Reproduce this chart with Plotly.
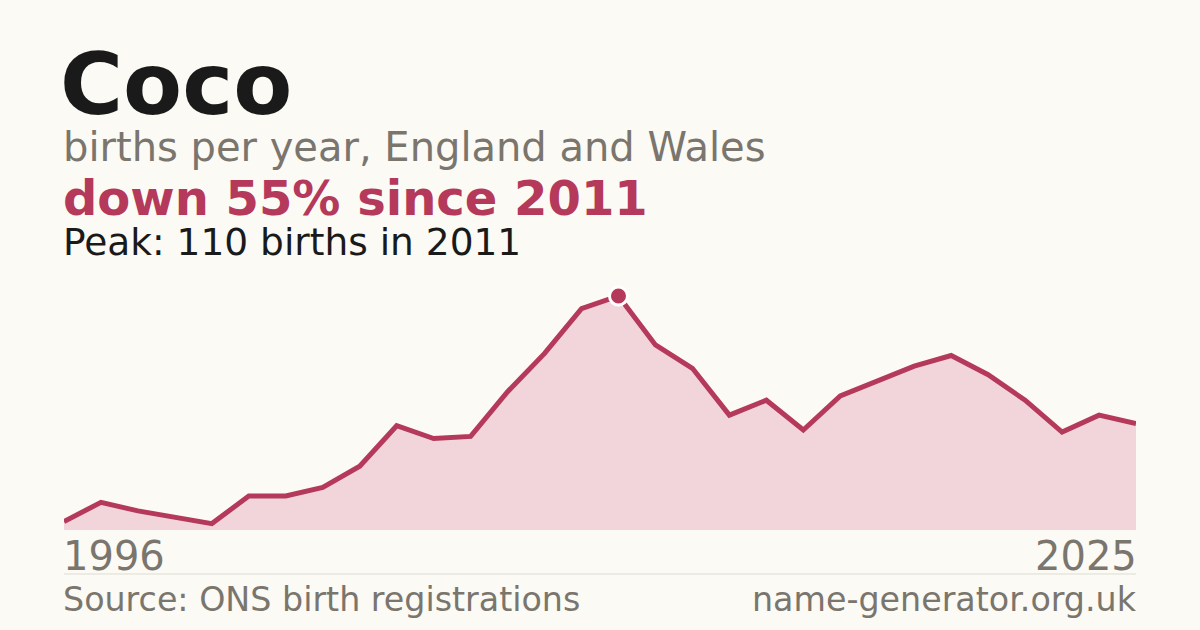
import plotly.graph_objects as go

# births per year for the name Coco, England and Wales
years = list(range(1996, 2026))
births = [4, 13, 9, 6, 3, 16, 16, 20, 30, 49, 43, 44, 65, 83, 104,
          110, 87, 76, 54, 61, 47, 63, 70, 77, 82, 73, 61, 46, 54, 50]

peak_year = 2011
peak_value = 110

bg = "#fbfaf5"
red = "#b5395a"
grey = "#7a756d"
dark = "#1a1a1a"
font = "DejaVu Sans"

fig = go.Figure()

fig.add_trace(go.Scatter(
    x=years, y=births,
    mode="lines",
    line=dict(color=red, width=5),
    fill="tozeroy",
    fillcolor="#f2d5db",
    hoverinfo="skip",
    showlegend=False,
))

fig.add_trace(go.Scatter(
    x=[peak_year], y=[peak_value],
    mode="markers",
    marker=dict(color=red, size=18, line=dict(color="white", width=3)),
    hoverinfo="skip",
    showlegend=False,
))

# plot area runs from y=280px to y=530px, so paper y = (530 - px) / 250
def py(px):
    return (530 - px) / 250


def label(text, x, y, size, color, xanchor="left", bold=False, height=None):
    if bold:
        text = f"<b>{text}</b>"
    fig.add_annotation(
        text=text, x=x, y=py(y), xref="paper", yref="paper",
        xanchor=xanchor, yanchor="middle", showarrow=False,
        height=height, valign="middle", borderpad=0,
        font=dict(family=font, size=size, color=color),
    )


label("Coco", -0.005, 84, 86, dark, bold=True)
label("births per year, England and Wales", -0.002, 147, 40, grey)
label("down 55% since 2011", -0.002, 198, 48, red, bold=True, height=46)
label("Peak: 110 births in 2011", -0.002, 242, 37.5, dark, height=38)
label(str(years[0]), -0.002, 556, 40, grey)
label(str(years[-1]), 1.002, 556, 40, grey, xanchor="right")
label("Source: ONS birth registrations", -0.002, 599, 33.3, grey)
label("name-generator.org.uk", 1.002, 599, 33.3, grey, xanchor="right")

fig.add_shape(type="line", xref="paper", yref="paper",
              x0=0, x1=1, y0=py(574), y1=py(574),
              line=dict(color="#dedbd3", width=1))

fig.update_layout(
    width=1200, height=630,
    margin=dict(l=64, r=64, t=280, b=100),
    paper_bgcolor=bg, plot_bgcolor=bg,
    xaxis=dict(range=[years[0], years[-1]], visible=False, fixedrange=True),
    yaxis=dict(range=[0, 117.5], visible=False, fixedrange=True),
)

fig.write_html(
    "out.html",
    config={"displayModeBar": False},
    post_script="document.body.style.margin='0';"
                "document.body.style.background='" + bg + "';",
)
